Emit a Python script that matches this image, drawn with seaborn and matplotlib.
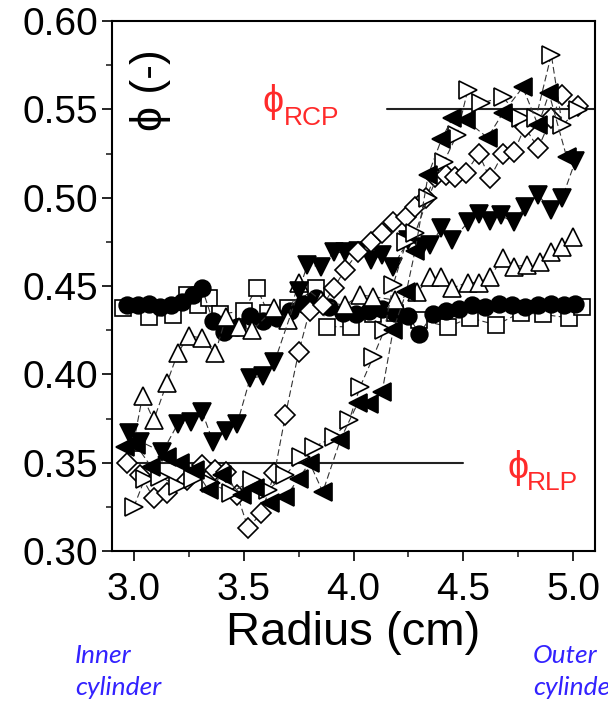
import numpy as np
import pandas as pd
import matplotlib
matplotlib.use("Agg")
import matplotlib.pyplot as plt
from matplotlib.ticker import MultipleLocator, FixedLocator
import seaborn as sns

# Radial volume-fraction profiles across the annular gap
circ_r = [2.97, 3.02, 3.07, 3.12, 3.17, 3.22, 3.27, 3.31, 3.36, 3.41, 3.47, 3.53, 3.59,
          3.65, 3.71, 3.77, 3.83, 3.89, 3.95, 4.01, 4.07, 4.13, 4.19, 4.25, 4.30, 4.36,
          4.42, 4.48, 4.54, 4.60, 4.66, 4.72, 4.78, 4.84, 4.90, 4.96, 5.01]
circ_phi = [0.439, 0.439, 0.440, 0.438, 0.439, 0.441, 0.445, 0.449, 0.430, 0.424, 0.427,
            0.433, 0.430, 0.432, 0.436, 0.440, 0.443, 0.438, 0.435, 0.434, 0.436, 0.437,
            0.435, 0.433, 0.423, 0.434, 0.436, 0.437, 0.439, 0.438, 0.440, 0.439, 0.438,
            0.439, 0.440, 0.439, 0.440]

sq_r = [2.95, 3.07, 3.18, 3.24, 3.29, 3.34, 3.39, 3.50, 3.56, 3.61, 3.70, 3.83, 3.88,
        3.99, 4.09, 4.19, 4.30, 4.43, 4.53, 4.65, 4.76, 4.86, 4.98, 5.04]
sq_phi = [0.4375, 0.4325, 0.4336, 0.445, 0.439, 0.443, 0.434, 0.436, 0.449, 0.435,
          0.4375, 0.449, 0.427, 0.427, 0.434, 0.435, 0.431, 0.427, 0.432, 0.428, 0.435,
          0.434, 0.432, 0.438]

up_r = [3.00, 3.04, 3.09, 3.15, 3.20, 3.25, 3.31, 3.37, 3.42, 3.48, 3.54, 3.64, 3.70,
        3.75, 3.85, 3.96, 4.03, 4.09, 4.19, 4.29, 4.35, 4.40, 4.45, 4.52, 4.57, 4.62,
        4.68, 4.73, 4.79, 4.85, 4.90, 4.95, 5.00]
up_phi = [0.362, 0.388, 0.374, 0.395, 0.412, 0.422, 0.4205, 0.412, 0.4325, 0.427, 0.425,
          0.4375, 0.431, 0.452, 0.442, 0.439, 0.445, 0.444, 0.442, 0.4466, 0.455, 0.455,
          0.449, 0.452, 0.452, 0.455, 0.466, 0.461, 0.462, 0.4635, 0.469, 0.472, 0.478]

dn_r = [2.98, 3.03, 3.13, 3.20, 3.26, 3.31, 3.36, 3.42, 3.47, 3.53, 3.59, 3.64, 3.75,
        3.79, 3.85, 3.91, 3.96, 4.02, 4.08, 4.13, 4.18, 4.25, 4.31, 4.35, 4.40, 4.45,
        4.52, 4.57, 4.62, 4.67, 4.73, 4.78, 4.84, 4.90, 4.95, 5.01]
dn_phi = [0.367, 0.362, 0.356, 0.372, 0.373, 0.379, 0.362, 0.368, 0.372, 0.398, 0.399,
          0.407, 0.447, 0.462, 0.461, 0.469, 0.469, 0.470, 0.465, 0.4675, 0.461, 0.476,
          0.472, 0.473, 0.483, 0.476, 0.486, 0.491, 0.487, 0.490, 0.486, 0.495, 0.5015,
          0.493, 0.500, 0.521]

dia_r = [2.97, 3.03, 3.09, 3.15, 3.24, 3.31, 3.37, 3.42, 3.47, 3.52, 3.58, 3.64, 3.69,
         3.75, 3.80, 3.86, 3.91, 3.96, 4.02, 4.08, 4.13, 4.18, 4.24, 4.28, 4.33, 4.37,
         4.42, 4.46, 4.51, 4.57, 4.62, 4.68, 4.73, 4.78, 4.84, 4.90, 4.95, 5.02]
dia_phi = [0.350, 0.343, 0.330, 0.333, 0.340, 0.349, 0.346, 0.345, 0.332, 0.313, 0.3215,
           0.344, 0.377, 0.4125, 0.436, 0.439, 0.449, 0.459, 0.469, 0.475, 0.480, 0.486,
           0.489, 0.495, 0.500, 0.512, 0.513, 0.512, 0.514, 0.525, 0.511, 0.525, 0.526,
           0.540, 0.528, 0.545, 0.558, 0.552]

rt_r = [3.00, 3.05, 3.12, 3.20, 3.27, 3.35, 3.44, 3.54, 3.61, 3.69, 3.76, 3.82, 3.91,
        3.98, 4.03, 4.09, 4.14, 4.18, 4.24, 4.28, 4.34, 4.41, 4.47, 4.52, 4.58, 4.68,
        4.76, 4.83, 4.90, 4.95, 5.02]
rt_phi = [0.325, 0.341, 0.342, 0.337, 0.341, 0.3385, 0.333, 0.340, 0.3345, 0.343, 0.353,
          0.359, 0.3645, 0.374, 0.393, 0.410, 0.425, 0.4505, 0.475, 0.480, 0.500, 0.520,
          0.5355, 0.561, 0.5535, 0.557, 0.545, 0.545, 0.581, 0.541, 0.5496]

lt_r = [2.96, 3.01, 3.08, 3.15, 3.21, 3.28, 3.34, 3.40, 3.49, 3.55, 3.62, 3.69, 3.75,
        3.80, 3.86, 3.94, 4.02, 4.07, 4.13, 4.18, 4.24, 4.28, 4.34, 4.40, 4.45, 4.51,
        4.61, 4.68, 4.77, 4.84, 4.89, 4.97]
lt_phi = [0.359, 0.360, 0.3475, 0.353, 0.350, 0.346, 0.3345, 0.343, 0.332, 0.3355, 0.327,
          0.3305, 0.341, 0.350, 0.3335, 0.363, 0.384, 0.383, 0.390, 0.425, 0.4466, 0.470,
          0.513, 0.533, 0.545, 0.544, 0.534, 0.548, 0.5625, 0.541, 0.559, 0.523]

# Reference packing fractions
phi_rcp = 0.55
phi_rlp = 0.35

x_ticks = [3.0, 3.5, 4.0, 4.5, 5.0]
y_ticks = [0.30, 0.35, 0.40, 0.45, 0.50, 0.55, 0.60]

sns.set_style("ticks")
plt.rcParams["font.family"] = ["Liberation Sans", "DejaVu Sans"]
plt.rcParams["text.color"] = "black"
plt.rcParams["axes.labelcolor"] = "black"

fig = plt.figure(figsize=(6.08, 7.02), dpi=100)
ax = fig.add_axes([0.184, 0.215, 0.795, 0.755])

series = [
    (sq_r, sq_phi, "s", "white", 11.0),
    (circ_r, circ_phi, "o", "black", 12.0),
    (up_r, up_phi, "^", "white", 12.5),
    (dn_r, dn_phi, "v", "black", 12.5),
    (dia_r, dia_phi, "D", "white", 10.0),
    (rt_r, rt_phi, ">", "white", 12.5),
    (lt_r, lt_phi, "<", "black", 12.5),
]
for r, phi, mk, fc, ms in series:
    df = pd.DataFrame({"r": r, "phi": phi})
    sns.lineplot(data=df, x="r", y="phi", ax=ax, sort=False, estimator=None,
                 color="#333333", lw=0.8, linestyle=(0, (6, 3)),
                 marker=mk, markersize=ms, markerfacecolor=fc,
                 markeredgecolor="black", markeredgewidth=1.2)

ax.plot([4.15, 5.1], [phi_rcp, phi_rcp], color="#222222", lw=1.5, zorder=1)
ax.plot([3.0, 4.5], [phi_rlp, phi_rlp], color="#222222", lw=1.5, zorder=1)

ax.set_xlim(2.9, 5.1)
ax.set_ylim(0.30, 0.60)
ax.xaxis.set_major_locator(FixedLocator(x_ticks))
ax.xaxis.set_minor_locator(MultipleLocator(0.25))
ax.yaxis.set_major_locator(FixedLocator(y_ticks))
ax.yaxis.set_minor_locator(MultipleLocator(0.025))
ax.set_xticklabels([f"{v:.1f}" for v in x_ticks])
ax.set_yticklabels([f"{v:.2f}" for v in y_ticks])
ax.tick_params(axis="both", which="major", direction="out", length=7, width=1.2,
               labelsize=28, colors="black", pad=3)
ax.tick_params(axis="both", which="minor", direction="out", length=4.5, width=1.2)
ax.tick_params(axis="x", which="major", pad=8)
for s in ax.spines.values():
    s.set_linewidth(1.5)
    s.set_color("black")

ax.set_xlabel("Radius (cm)", fontsize=34, labelpad=2, color="black")
ax.set_ylabel("")

# y-axis quantity written inside the frame
ax.text(0.079, 0.87, "ϕ (-)", rotation=90, fontsize=32, ha="center", va="center",
        color="black", transform=ax.transAxes)

red = "#ff2a2a"
fig.text(263 / 608, 1 - 112 / 702, "ϕ", fontsize=27, color=red, ha="left", va="baseline")
fig.text(284 / 608, 1 - 125 / 702, "RCP", fontsize=19, color=red, ha="left", va="baseline")
fig.text(507 / 608, 1 - 478 / 702, "ϕ", fontsize=27, color=red, ha="left", va="baseline")
fig.text(527 / 608, 1 - 490 / 702, "RLP", fontsize=19, color=red, ha="left", va="baseline")

blue = "#3322ff"
for x0, words in [(75, ("Inner", "cylinder")), (533, ("Outer", "cylinder"))]:
    fig.text(x0 / 608, 1 - 663 / 702, words[0], fontsize=19, color=blue,
             style="italic", family="Lato", ha="left", va="baseline")
    fig.text(x0 / 608, 1 - 695 / 702, words[1], fontsize=19, color=blue,
             style="italic", family="Lato", ha="left", va="baseline")

fig.savefig("out.png", dpi=100)
